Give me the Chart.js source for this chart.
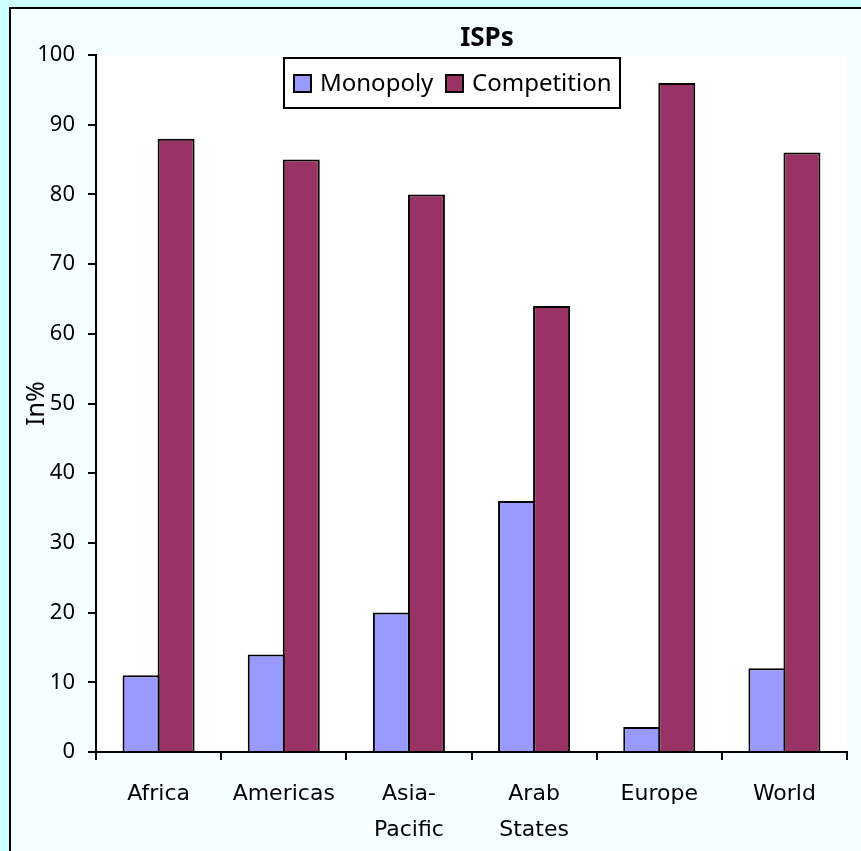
<!DOCTYPE html>
<html lang="en">
<head>
    <meta charset="UTF-8">
    <title>ISPs</title>
    <script src="https://cdn.jsdelivr.net/npm/chart.js"></script>
    <style>
        html, body { margin: 0; padding: 0; background: #CCFFFF; overflow: hidden; }
        #wrap { width: 861px; height: 851px; }
    </style>
</head>
<body>
    <div id="wrap"><canvas id="ispChart" width="861" height="851"></canvas></div>

    <script>
        // chart data
        const regions = [["Africa"], ["Americas"], ["Asia-", "Pacific"], ["Arab", "States"], ["Europe"], ["World"]];
        const monopoly = [11, 14, 20, 36, 3.6, 12];
        const competition = [88, 85, 80, 64, 96, 86];
        const yTicks = [0, 10, 20, 30, 40, 50, 60, 70, 80, 90, 100];

        // backdrop, frame, title and boxed legend
        const frame = {
            id: "frame",
            beforeDraw(chart) {
                const c = chart.ctx, a = chart.chartArea;
                c.save();
                c.fillStyle = "#CCFFFF";
                c.fillRect(0, 0, chart.width, chart.height);
                c.fillStyle = "#F5FFFF";
                c.fillRect(10, 8, chart.width, chart.height);
                c.strokeStyle = "#000";
                c.lineWidth = 2;
                c.strokeRect(10, 8, chart.width + 10, chart.height + 10);
                c.fillStyle = "#FFFFFF";
                c.fillRect(a.left, a.top, a.right - a.left, a.bottom - a.top);
                c.restore();
            },
            afterDraw(chart) {
                const c = chart.ctx;
                c.save();
                c.fillStyle = "#000";
                c.font = "bold 26px 'Noto Sans'";
                c.textAlign = "center";
                c.textBaseline = "middle";
                c.fillText("ISPs", 487, 39);

                // legend box
                c.fillStyle = "#FFFFFF";
                c.fillRect(284, 58, 336, 50);
                c.strokeStyle = "#000";
                c.lineWidth = 2;
                c.strokeRect(284, 58, 336, 50);
                const xs = [294, 446];
                c.font = "24px 'Noto Sans'";
                c.textAlign = "left";
                chart.data.datasets.forEach((ds, i) => {
                    c.fillStyle = ds.backgroundColor;
                    c.fillRect(xs[i], 75, 17, 17);
                    c.strokeRect(xs[i], 75, 17, 17);
                    c.fillStyle = "#000";
                    c.fillText(ds.label, xs[i] + 26, 84);
                });
                c.restore();
            }
        };

        new Chart(document.getElementById("ispChart"), {
            type: "bar",
            data: {
                labels: regions,
                datasets: [
                    { label: "Monopoly", data: monopoly, backgroundColor: "#9999FF", borderColor: "#000",
                      borderWidth: 2, borderSkipped: "start" },
                    { label: "Competition", data: competition, backgroundColor: "#993366", borderColor: "#000",
                      borderWidth: 2, borderSkipped: "start" }
                ]
            },
            options: {
                responsive: false,
                animation: false,
                // bars slightly wider than their slot so the shared edge is one line
                datasets: { bar: { categoryPercentage: 0.56, barPercentage: 1.055 } },
                layout: { padding: { left: 20, top: 55, right: 14, bottom: 0 } },
                plugins: {
                    legend: { display: false },
                    title: { display: false },
                    tooltip: { enabled: false }
                },
                scales: {
                    x: {
                        afterFit(s) { s.height = 99; },
                        grid: { drawOnChartArea: false, drawTicks: true, tickLength: 8, color: "#000", lineWidth: 2 },
                        border: { color: "#000", width: 2, z: 1 },
                        ticks: {
                            color: "#000",
                            padding: 16,
                            maxRotation: 0,
                            font: { family: "'DejaVu Sans'", size: 22, lineHeight: 1.636 }
                        }
                    },
                    y: {
                        min: 0,
                        max: 100,
                        afterFit(s) { s.width = 76; },
                        afterBuildTicks(s) { s.ticks = yTicks.map(v => ({ value: v })); },
                        grid: { drawOnChartArea: false, drawTicks: true, tickLength: 8, color: "#000", lineWidth: 2 },
                        border: { color: "#000", width: 2 },
                        ticks: {
                            color: "#000",
                            padding: 13,
                            font: { family: "'Noto Sans'", size: 22 }
                        },
                        title: {
                            display: true,
                            text: "In%",
                            color: "#000",
                            padding: { top: 2, bottom: 0 },
                            font: { family: "'Noto Sans'", size: 25 }
                        }
                    }
                }
            },
            plugins: [frame]
        });
    </script>
</body>
</html>
